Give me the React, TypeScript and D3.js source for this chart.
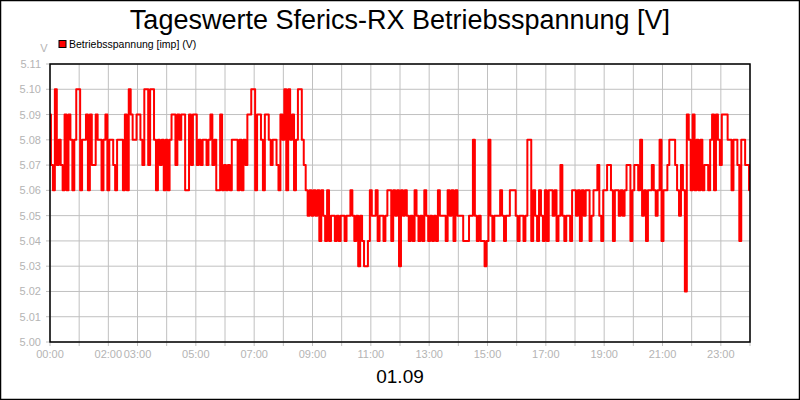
import * as d3 from 'd3';

// Betriebsspannung, one reading every 4 minutes from 00:00 to 24:00
const voltage = [
  5.09, 5.07, 5.06, 5.10, 5.07, 5.08, 5.07, 5.06, 5.09, 5.06,
  5.09, 5.08, 5.06, 5.08, 5.10, 5.10, 5.06, 5.08, 5.08, 5.09,
  5.06, 5.09, 5.07, 5.07, 5.09, 5.08, 5.08, 5.06, 5.08, 5.09,
  5.06, 5.08, 5.08, 5.07, 5.06, 5.08, 5.08, 5.08, 5.06, 5.09,
  5.06, 5.10, 5.09, 5.08, 5.08,
  5.09, 5.09, 5.08, 5.07, 5.10, 5.10, 5.07, 5.10, 5.10, 5.08,
  5.06, 5.08, 5.07, 5.08, 5.06, 5.08, 5.06, 5.08, 5.09, 5.09,
  5.07, 5.09, 5.08, 5.09, 5.09, 5.06, 5.06, 5.09, 5.07, 5.09,
  5.09, 5.07, 5.08, 5.07, 5.08, 5.08, 5.07, 5.08, 5.09, 5.07,
  5.08, 5.06, 5.06, 5.09, 5.06, 5.07,
  5.06, 5.07, 5.06, 5.08, 5.08, 5.08, 5.06, 5.08, 5.06, 5.08,
  5.07, 5.09, 5.09, 5.10, 5.10, 5.06, 5.09, 5.09, 5.08, 5.06,
  5.09, 5.09, 5.08, 5.07, 5.08, 5.08, 5.07, 5.06, 5.09, 5.08,
  5.10, 5.06, 5.10, 5.08, 5.09, 5.06, 5.08, 5.10, 5.10, 5.08,
  5.07, 5.06, 5.05, 5.06, 5.05,
  5.06, 5.05, 5.06, 5.04, 5.06, 5.05, 5.04, 5.06, 5.04, 5.05,
  5.05, 5.04, 5.05, 5.04, 5.05, 5.05, 5.04, 5.05, 5.05, 5.06,
  5.05, 5.04, 5.05, 5.03, 5.05, 5.04, 5.03, 5.03, 5.04, 5.06,
  5.05, 5.05, 5.06, 5.04, 5.05, 5.05, 5.04, 5.05, 5.06, 5.06,
  5.04, 5.06, 5.05, 5.06, 5.03, 5.06, 5.05, 5.06, 5.05,
  5.04, 5.05, 5.04, 5.06, 5.05, 5.04, 5.05, 5.04, 5.06, 5.05,
  5.04, 5.05, 5.04, 5.05, 5.04, 5.06, 5.05, 5.05, 5.05, 5.04,
  5.06, 5.05, 5.06, 5.04, 5.06, 5.05, 5.05, 5.05, 5.04, 5.04,
  5.04, 5.05, 5.05, 5.08, 5.05, 5.04, 5.05, 5.04, 5.04, 5.03,
  5.04, 5.08, 5.05, 5.04, 5.05, 5.05, 5.05, 5.06, 5.05, 5.04,
  5.05, 5.05, 5.06,
  5.06, 5.06, 5.05, 5.04, 5.05, 5.05, 5.04, 5.05, 5.08, 5.08,
  5.04, 5.06, 5.05, 5.04, 5.06, 5.05, 5.04, 5.06, 5.04, 5.06,
  5.06, 5.05, 5.06, 5.04, 5.05, 5.07, 5.05, 5.04, 5.05, 5.05,
  5.04, 5.06, 5.06, 5.05, 5.06, 5.04, 5.06, 5.05, 5.06, 5.06,
  5.04, 5.05, 5.06, 5.06, 5.07, 5.05, 5.04, 5.06, 5.06, 5.07,
  5.07, 5.06, 5.04, 5.06, 5.06,
  5.05, 5.06, 5.05, 5.06, 5.07, 5.07, 5.04, 5.06, 5.07, 5.07,
  5.06, 5.08, 5.05, 5.06, 5.04, 5.06, 5.06, 5.07, 5.06, 5.05,
  5.06, 5.08, 5.04, 5.06, 5.06, 5.07, 5.08, 5.08, 5.08, 5.07,
  5.06, 5.05, 5.07, 5.06,
  5.02, 5.09, 5.08, 5.06, 5.09, 5.06, 5.08, 5.06, 5.08, 5.06,
  5.07, 5.07, 5.06, 5.08, 5.09, 5.06, 5.09, 5.08, 5.07, 5.09,
  5.09, 5.09, 5.08, 5.08, 5.06, 5.08, 5.08, 5.07, 5.04, 5.08,
  5.08, 5.07, 5.07, 5.06,
];

const stepMinutes = 4;
const hourTicks = d3.range(0, 25);
const xTickLabels = [
  { hour: 0, label: '00:00' },
  { hour: 2, label: '02:00' },
  { hour: 3, label: '03:00' },
  { hour: 5, label: '05:00' },
  { hour: 7, label: '07:00' },
  { hour: 9, label: '09:00' },
  { hour: 11, label: '11:00' },
  { hour: 13, label: '13:00' },
  { hour: 15, label: '15:00' },
  { hour: 17, label: '17:00' },
  { hour: 19, label: '19:00' },
  { hour: 21, label: '21:00' },
  { hour: 23, label: '23:00' },
];
const yTicks = [5.0, 5.01, 5.02, 5.03, 5.04, 5.05, 5.06, 5.07, 5.08, 5.09, 5.1, 5.11];

const W = 800;
const H = 400;
const left = 50, right = 750, top = 64, bottom = 342;
const font = '"Liberation Sans", Arial, sans-serif';
const gridColor = '#c0c0c0';
const labelColor = '#b4b4b4';

export default function App() {
  const x = d3.scaleLinear().domain([0, 1440]).range([left, right]);
  const y = d3.scaleLinear().domain([5.0, 5.11]).range([bottom, top]);

  const line = d3.line<number>()
    .x((_, i) => x(i * stepMinutes))
    .y((d) => y(d))
    .curve(d3.curveStep);

  return (
    <svg width={W} height={H} style={{ position: 'absolute', left: 0, top: 0, background: '#fff' }}
      fontFamily={font}>
      <rect x={0.5} y={0.5} width={W - 1} height={H - 1} fill="#fff" stroke="#000" strokeWidth={1.5} />

      <text x={400} y={29} textAnchor="middle" fontSize={27} fill="#000">
        Tageswerte Sferics-RX Betriebsspannung [V]
      </text>

      {/* grid */}
      {yTicks.map((t) => (
        <g key={'y' + t}>
          <line x1={left - 4} x2={right} y1={y(t)} y2={y(t)} stroke={gridColor} strokeWidth={1} />
          <text x={41} y={y(t) + 4} textAnchor="end" fontSize={11} fill={labelColor}>
            {t.toFixed(2)}
          </text>
        </g>
      ))}
      {hourTicks.map((h) => (
        <line key={'x' + h} x1={x(h * 60)} x2={x(h * 60)} y1={top} y2={bottom + 4}
          stroke={gridColor} strokeWidth={1} />
      ))}
      {xTickLabels.map((t) => (
        <text key={t.label} x={x(t.hour * 60)} y={358} textAnchor="middle" fontSize={11} fill={labelColor}>
          {t.label}
        </text>
      ))}

      <text x={44} y={52} textAnchor="middle" fontSize={11} fill={labelColor}>V</text>

      {/* legend */}
      <rect x={59} y={40.5} width={7} height={7} fill="#ff0000" stroke="#000" strokeWidth={1} />
      <text x={69} y={48} fontSize={10.5} fill="#000">Betriebsspannung [imp] (V)</text>

      <path d={line(voltage) || ''} fill="none" stroke="#ff0000" strokeWidth={2} strokeLinejoin="round" />

      <rect x={left} y={top} width={right - left} height={bottom - top} fill="none" stroke="#000" strokeWidth={1.5} />

      <text x={400} y={383} textAnchor="middle" fontSize={19} fill="#000">01.09</text>
    </svg>
  );
}
